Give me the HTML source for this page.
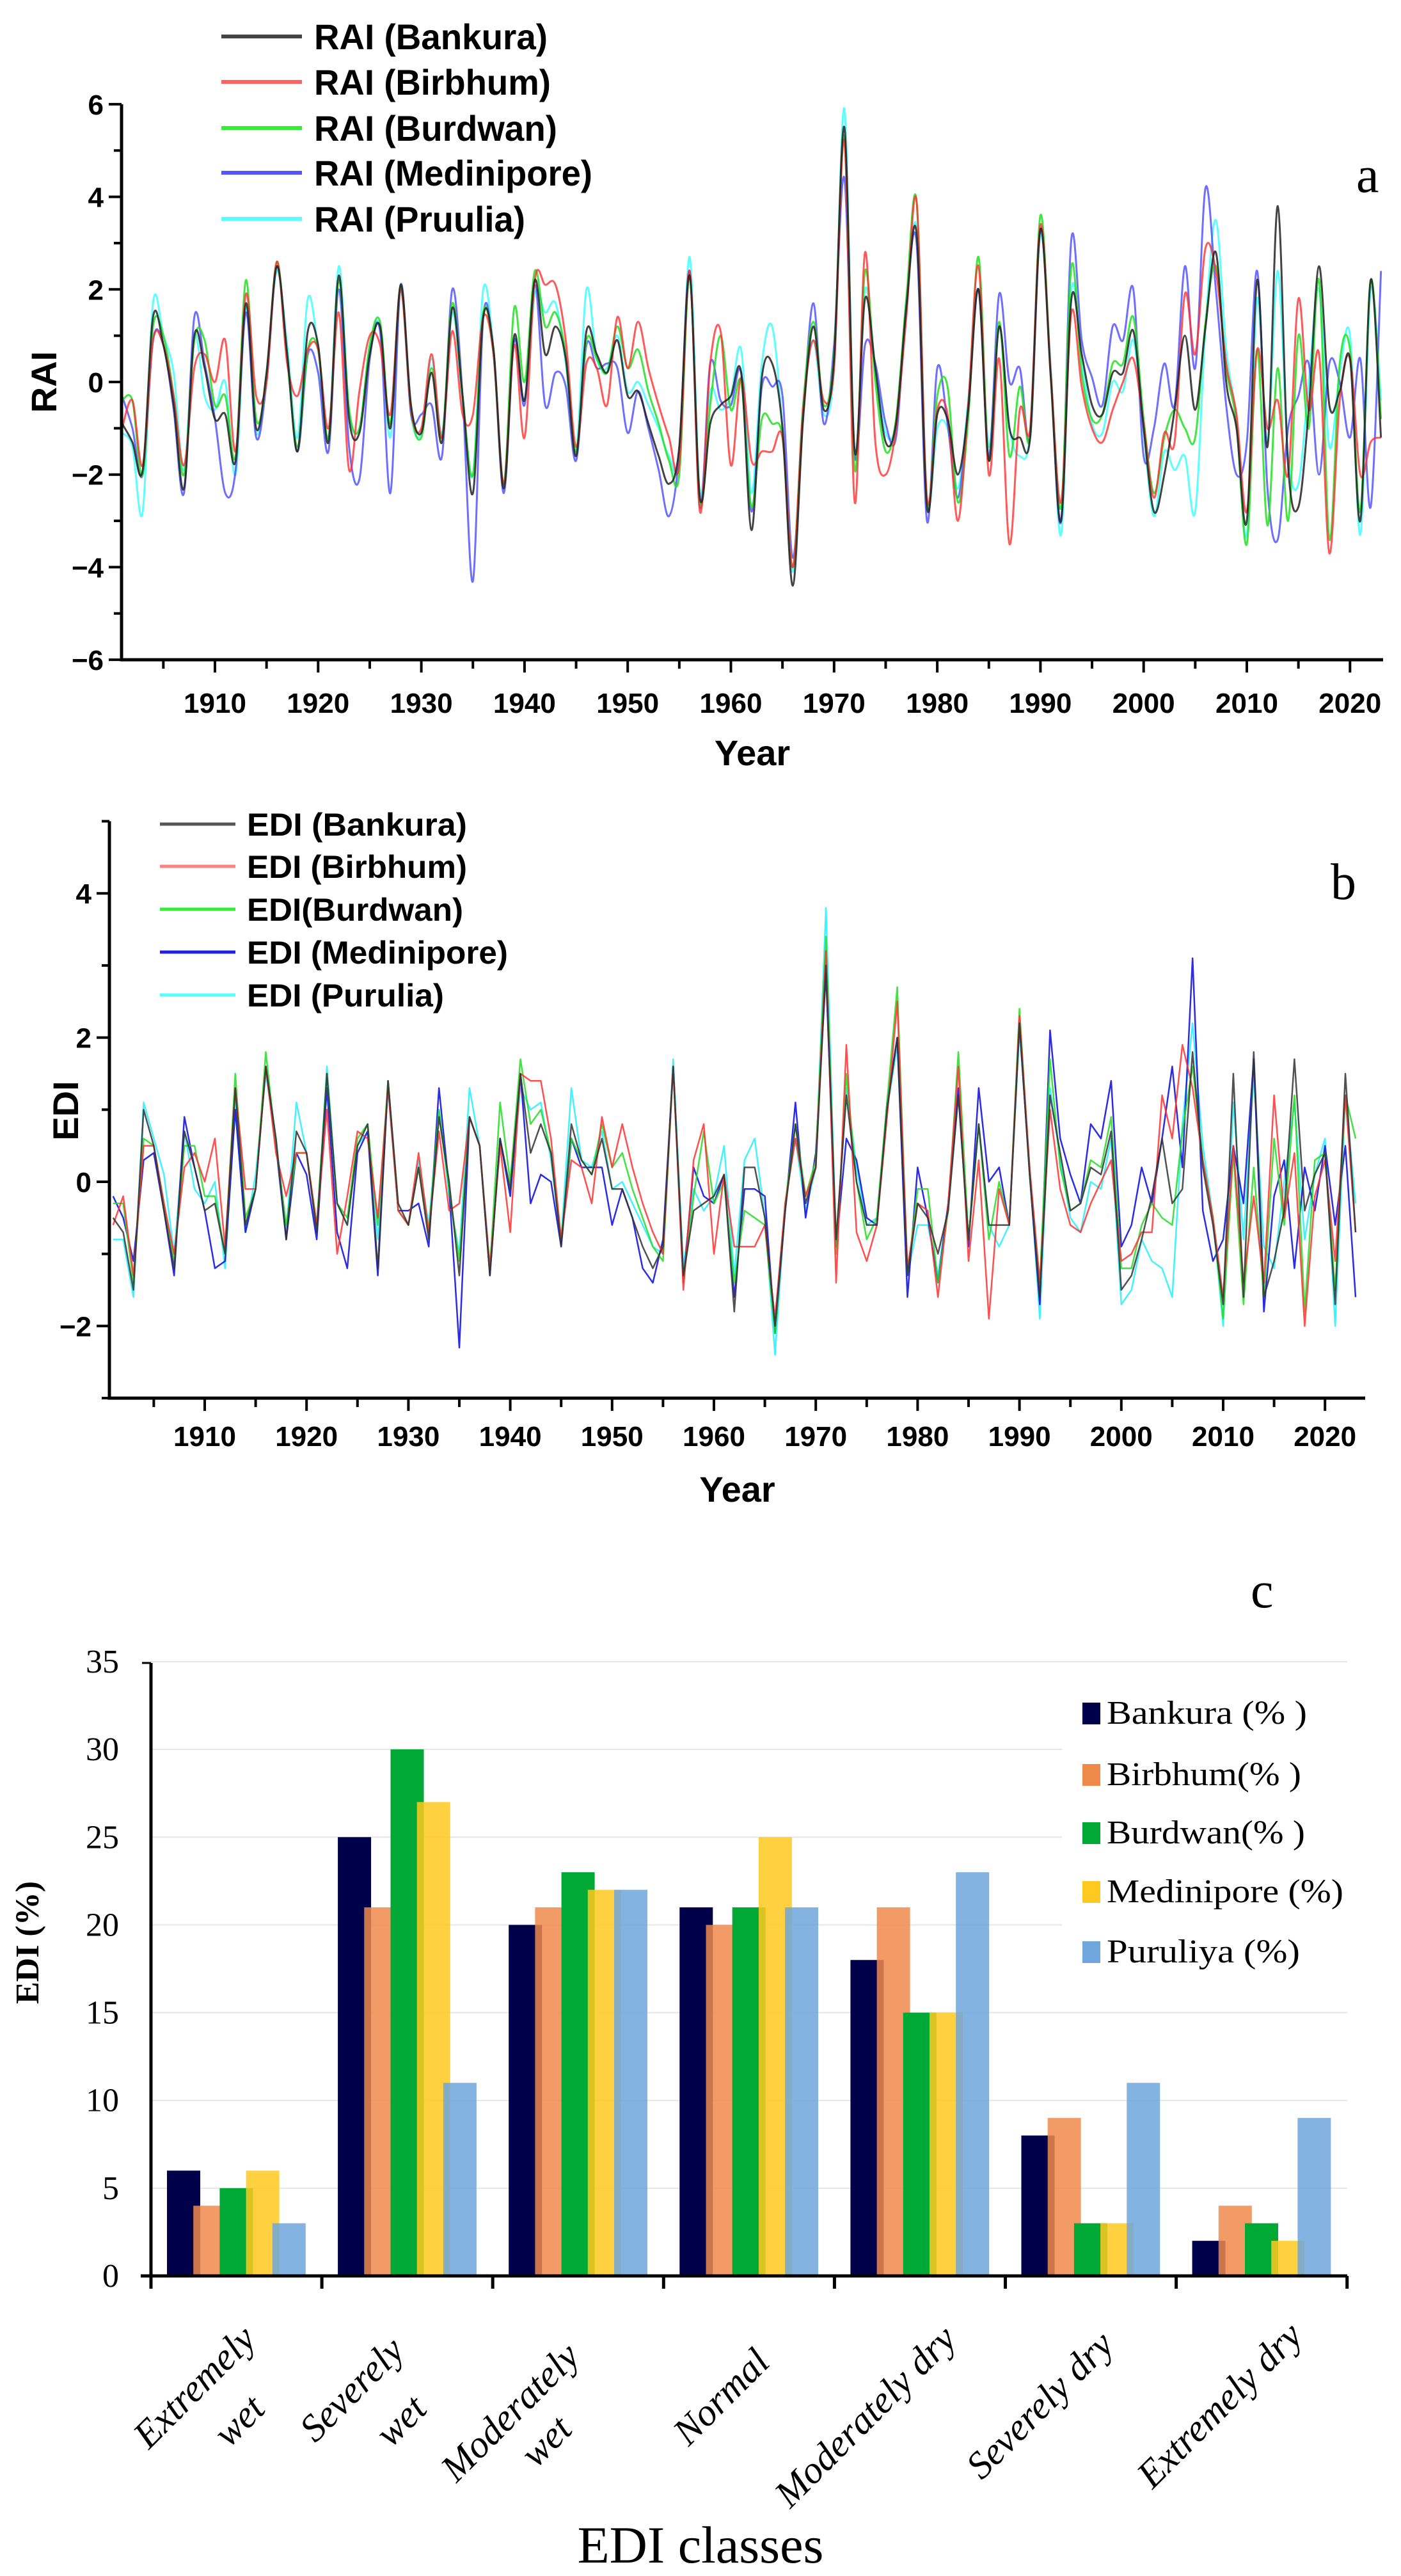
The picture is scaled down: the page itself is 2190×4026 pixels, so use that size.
<!DOCTYPE html>
<html><head><meta charset="utf-8"><style>
html,body{margin:0;padding:0;background:#fff}
svg{display:block}
.ab{font-family:"Liberation Sans",Arial,sans-serif;font-weight:bold}
.sr{font-family:"Liberation Serif","Times New Roman",serif}
</style></head><body>
<svg id="fig" width="2190" height="4026" viewBox="0 0 2190 4026" xmlns="http://www.w3.org/2000/svg">
<g id="pa"></g>
<g id="pb"></g>
<g id="pc"></g>
</svg>
<script>
const startYear = 1901;
const raiBankura = [-0.9,-1.3,-1.9,1.4,0.8,-0.5,-2.3,1.0,0.3,-0.8,-0.7,-1.7,1.7,-1.0,0.2,2.5,0.6,-1.5,1.1,0.8,-1.3,2.3,-0.8,-1.1,0.6,1.2,-1.0,2.1,-0.5,-1.1,0.2,-1.3,1.6,-0.3,-2.4,1.4,0.7,-2.3,1.0,-0.4,2.2,0.6,1.2,0.5,-1.6,1.1,0.6,0.2,0.9,-0.3,-0.2,-0.9,-1.6,-2.2,-1.4,2.3,-2.5,-0.9,-0.5,-0.3,0.2,-3.2,0.1,0.4,-1.0,-4.4,-0.8,1.2,-0.6,0.5,5.5,-1.5,1.8,0.3,-1.3,-0.9,1.6,3.2,-2.7,-0.7,-0.8,-2.0,-0.6,2.0,-1.7,1.2,-1.0,-1.2,-1.2,3.3,0.1,-3.0,1.8,0.6,-0.5,-0.7,0.2,0.2,1.1,-1.0,-2.8,-2.0,-0.6,1.0,-0.6,1.2,2.8,0.0,-1.0,-3.0,2.2,-1.4,3.8,-1.8,-2.7,-0.6,2.5,-0.5,-0.2,0.5,-3.0,2.2,-1.2];
const raiBirbhum = [-1.0,-0.4,-1.8,0.9,0.8,-0.3,-1.8,0.3,0.6,0.0,0.9,-1.5,1.9,-0.3,0.0,2.6,0.4,-0.3,0.7,0.7,-1.0,1.5,-1.9,-0.2,1.0,0.8,-0.7,2.0,-0.6,-1.0,0.6,-1.2,1.1,-0.7,-0.7,1.4,0.6,-2.2,0.8,-1.2,2.2,2.1,2.1,0.9,-1.4,0.4,0.3,-0.5,1.4,0.3,1.3,0.3,-0.5,-1.2,-1.8,2.4,-2.8,0.4,1.1,-1.8,0.1,-1.7,-1.5,-1.5,-1.2,-4.0,-0.6,0.9,-0.4,0.3,5.2,-2.6,2.8,-1.3,-2.0,-1.0,1.4,3.9,-2.5,-0.6,-0.7,-3.0,-0.5,2.5,-2.0,0.5,-3.5,-0.6,-1.0,3.4,0.2,-2.6,1.5,-0.1,-1.0,-1.3,-0.6,0.0,0.5,-0.9,-2.5,-1.1,-1.3,1.9,0.6,2.9,2.4,0.4,-0.7,-2.8,0.7,-1.0,-0.4,-2.0,1.8,-0.6,0.6,-3.7,-0.4,0.5,-2.0,-1.3,-1.2];
const raiBurdwan = [-0.4,-0.4,-2.0,1.2,1.0,-0.3,-2.0,0.9,0.9,-0.5,-0.3,-1.6,2.2,-0.8,0.1,2.6,0.5,-1.4,0.7,0.7,-1.2,2.2,-0.6,-1.0,0.8,1.3,-0.9,2.1,-0.6,-1.2,0.3,-1.2,1.7,-0.3,-2.0,1.5,0.6,-2.2,1.6,0.0,2.4,1.2,1.5,0.6,-1.5,0.9,0.5,0.2,1.2,0.3,0.7,-0.2,-0.9,-1.7,-2.0,2.3,-2.6,-0.5,1.0,-0.6,0.0,-2.7,-0.8,-0.9,-1.2,-4.0,-0.5,1.3,-0.5,0.6,5.3,-1.9,2.4,0.0,-1.5,-0.8,1.8,3.9,-2.6,-0.3,-0.1,-2.6,-0.8,2.7,-1.7,1.3,-1.6,-0.1,-1.2,3.6,0.2,-2.7,2.5,0.2,-0.8,-0.7,0.4,0.4,1.4,-0.8,-2.4,-1.2,-0.6,-1.0,-1.2,1.3,2.5,0.3,-0.9,-3.5,0.7,-3.1,0.3,-3.0,1.0,-1.0,2.2,-3.4,0.4,0.7,-2.8,2.2,-0.8];
const raiMedinipore = [-0.3,-1.0,-2.0,0.9,0.8,-0.6,-2.4,1.4,0.4,-0.8,-2.4,-1.9,1.5,-1.2,0.0,2.5,0.6,-1.5,0.6,0.2,-1.5,2.0,-1.4,-2.1,0.5,1.1,-2.4,2.1,-0.7,-0.7,-0.5,-1.6,2.0,-0.3,-4.3,1.4,0.6,-2.4,0.9,-0.5,2.1,-0.5,0.2,-0.1,-1.7,0.8,0.3,0.4,0.3,-1.1,-0.2,-1.0,-1.9,-2.9,-1.5,2.4,-2.7,0.4,-0.4,-0.5,0.2,-2.8,-0.1,-0.1,-0.3,-3.8,-0.7,1.7,-0.9,0.8,4.4,-1.6,0.8,0.4,-0.9,-1.2,1.7,3.0,-3.0,0.3,-0.9,-2.5,-0.5,2.0,-1.6,1.9,0.0,0.3,-1.2,3.3,0.2,-3.0,3.1,0.9,0.1,-0.5,1.2,0.9,2.0,-1.6,-1.0,0.4,-0.5,2.5,0.3,4.2,2.0,-0.5,-2.0,-1.3,2.4,-2.3,-3.4,-1.0,-0.3,0.4,-2.0,0.4,0.0,-1.2,0.5,-2.7,2.4];
const raiPurulia = [-1.1,-1.4,-2.8,1.7,1.0,0.2,-1.9,1.0,-0.3,-0.6,0.0,-2.0,1.6,-1.1,0.2,2.4,0.8,-1.2,1.8,0.7,-1.2,2.5,-0.6,-1.0,0.8,1.2,-1.2,2.0,-0.7,-1.1,0.5,-1.1,1.5,-0.4,-2.0,2.0,0.7,-2.2,0.9,-0.4,1.9,1.5,1.7,0.4,-1.5,2.0,0.5,0.3,1.0,-0.2,0.0,-0.5,-1.0,-1.6,-1.7,2.7,-2.4,-0.2,-0.6,-0.3,0.7,-2.4,0.4,1.2,-1.0,-4.1,-0.5,0.9,-0.7,0.3,5.9,-1.6,2.0,0.3,-1.1,-0.9,1.5,3.3,-2.6,-1.0,-1.0,-2.3,-0.4,2.0,-1.4,1.2,-1.0,-1.6,-1.1,3.2,0.3,-3.3,2.0,0.5,-0.9,-1.1,0.0,-0.2,0.9,-1.1,-2.9,-1.5,-1.9,-1.6,-2.8,1.2,3.5,0.7,-0.8,-3.3,1.8,-1.3,2.4,-1.6,-2.2,0.0,2.0,-1.4,0.2,1.0,-3.3,2.0,-0.4];
const ediBankura = [-0.5,-0.7,-1.5,1.0,0.5,-0.4,-1.2,0.7,0.2,-0.4,-0.3,-1.0,1.3,-0.6,-0.1,1.6,0.6,-0.8,0.7,0.4,-0.7,1.5,-0.3,-0.6,0.5,0.8,-1.2,1.4,-0.3,-0.6,0.2,-0.8,0.9,0.0,-1.3,0.9,0.5,-1.3,0.6,-0.1,1.5,0.4,0.8,0.4,-0.9,0.8,0.3,0.1,0.6,-0.1,-0.1,-0.5,-0.9,-1.2,-0.9,1.6,-1.3,-0.4,-0.3,-0.2,0.1,-1.8,0.2,0.2,-0.5,-2.0,-0.4,0.8,-0.3,0.2,3.0,-0.8,1.2,0.0,-0.6,-0.6,1.0,2.0,-1.3,-0.3,-0.5,-1.0,-0.4,1.2,-0.8,0.8,-0.6,-0.6,-0.6,2.2,0.1,-1.6,1.2,0.4,-0.4,-0.3,0.2,0.1,0.7,-1.5,-1.3,-0.8,-0.2,0.6,-0.3,-0.1,1.8,0.2,-0.6,-1.7,1.5,-1.6,1.8,-1.6,-1.1,-0.4,1.7,-0.4,0.1,0.4,-1.7,1.5,-0.7];
const ediBirbhum = [-0.6,-0.2,-1.3,0.5,0.5,-0.3,-1.0,0.2,0.4,0.0,0.6,-0.9,1.3,-0.1,-0.1,1.6,0.4,-0.2,0.4,0.4,-0.6,1.0,-1.0,-0.2,0.7,0.6,-0.5,1.3,-0.4,-0.6,0.4,-0.7,0.7,-0.4,-0.3,0.9,0.5,-1.2,0.5,-0.7,1.5,1.4,1.4,0.6,-0.8,0.3,0.2,-0.3,0.9,0.2,0.8,0.2,-0.3,-0.7,-1.0,1.6,-1.5,0.3,0.8,-1.0,0.1,-0.9,-0.9,-0.9,-0.6,-1.9,-0.3,0.6,-0.2,0.2,3.2,-1.4,1.9,-0.7,-1.1,-0.6,0.9,2.5,-1.2,-0.3,-0.4,-1.6,-0.3,1.6,-1.1,0.3,-1.9,-0.1,-0.6,2.3,0.2,-1.4,1.0,-0.1,-0.6,-0.7,-0.3,0.0,0.3,-1.1,-1.0,-0.7,-0.7,1.2,0.6,1.9,1.3,0.3,-0.5,-1.6,0.5,-1.4,-0.2,-1.4,1.2,-0.5,0.4,-2.0,-0.2,0.3,-1.1,1.2,-0.7];
const ediBurdwan = [-0.3,-0.3,-1.4,0.6,0.5,-0.3,-1.1,0.5,0.5,-0.2,-0.2,-1.0,1.5,-0.5,-0.1,1.8,0.5,-0.6,0.4,0.4,-0.6,1.5,-0.3,-0.5,0.6,0.8,-0.6,1.4,-0.4,-0.6,0.2,-0.7,1.0,-0.1,-1.1,0.9,0.5,-1.2,1.1,0.0,1.7,0.8,1.0,0.4,-0.8,0.6,0.3,0.1,0.8,0.2,0.4,-0.1,-0.5,-0.9,-1.1,1.6,-1.4,-0.2,0.7,-0.3,0.0,-1.4,-0.4,-0.5,-0.6,-2.1,-0.3,0.8,-0.2,0.3,3.4,-1.0,1.5,0.0,-0.8,-0.5,1.1,2.7,-1.3,-0.1,-0.1,-1.4,-0.4,1.8,-0.8,0.8,-0.8,0.0,-0.6,2.4,0.1,-1.4,1.7,0.2,-0.4,-0.3,0.3,0.2,0.9,-1.2,-1.2,-0.6,-0.3,-0.5,-0.6,0.7,1.6,0.3,-0.5,-1.9,0.4,-1.7,0.2,-1.6,0.6,-0.6,1.2,-1.8,0.3,0.4,-1.5,1.2,0.6];
const ediMedinipore = [-0.2,-0.5,-1.1,0.3,0.4,-0.4,-1.3,0.9,0.2,-0.4,-1.2,-1.1,1.0,-0.7,-0.1,1.6,0.5,-0.8,0.4,0.1,-0.8,1.3,-0.7,-1.2,0.4,0.7,-1.3,1.4,-0.4,-0.4,-0.3,-0.9,1.3,-0.1,-2.3,0.9,0.5,-1.3,0.6,-0.2,1.5,-0.3,0.1,0.0,-0.9,0.6,0.2,0.2,0.2,-0.6,-0.1,-0.5,-1.2,-1.4,-0.8,1.6,-1.4,0.2,-0.2,-0.3,0.1,-1.6,-0.1,-0.1,-0.2,-2.1,-0.4,1.1,-0.5,0.4,2.9,-0.9,0.6,0.3,-0.5,-0.6,1.1,2.0,-1.6,0.2,-0.5,-1.4,-0.3,1.3,-0.9,1.3,0.0,0.2,-0.6,2.2,0.1,-1.7,2.1,0.6,0.1,-0.3,0.8,0.6,1.4,-0.9,-0.6,0.2,-0.3,0.6,1.6,0.2,3.1,-0.4,-1.1,-0.8,0.5,-0.3,1.7,-1.8,-0.2,0.3,-1.2,0.2,-0.4,0.5,-0.6,0.5,-1.6];
const ediPurulia = [-0.8,-0.8,-1.6,1.1,0.6,0.1,-1.0,0.7,-0.1,-0.3,0.0,-1.2,1.1,-0.7,0.1,1.5,0.6,-0.7,1.1,0.4,-0.7,1.6,-0.3,-0.6,0.5,0.7,-0.8,1.3,-0.4,-0.6,0.3,-0.6,1.0,-0.2,-1.0,1.3,0.5,-1.2,0.6,-0.2,1.3,1.0,1.1,0.3,-0.8,1.3,0.3,0.2,0.7,-0.1,0.0,-0.3,-0.6,-0.9,-1.0,1.7,-1.2,-0.1,-0.4,-0.2,0.5,-1.3,0.3,0.6,-0.5,-2.4,-0.3,0.6,-0.4,0.2,3.8,-0.9,1.3,0.2,-0.6,-0.5,1.0,1.9,-1.3,-0.6,-0.6,-1.3,-0.3,1.2,-0.8,0.8,-0.6,-0.9,-0.6,2.1,0.2,-1.9,1.3,0.3,-0.5,-0.7,0.0,-0.1,0.6,-1.7,-1.5,-0.8,-1.1,-1.2,-1.6,0.8,2.2,0.5,-0.5,-2.0,1.1,-0.8,1.5,-0.9,-1.2,0.0,1.1,-0.8,0.1,0.6,-2.0,1.2,-0.3];
const raiNames = ["RAI (Bankura)","RAI (Birbhum)","RAI (Burdwan)","RAI (Medinipore)","RAI (Pruulia)"];
const ediNames = ["EDI (Bankura)","EDI (Birbhum)","EDI(Burdwan)","EDI (Medinipore)","EDI (Purulia)"];
const xTickYears = [1910,1920,1930,1940,1950,1960,1970,1980,1990,2000,2010,2020];
const raiTicks = [-6,-4,-2,0,2,4,6];
const ediTicks = [-2,0,2,4];
const classNames = [["Extremely","wet"],["Severely","wet"],["Moderately","wet"],["Normal"],["Moderately dry"],["Severely dry"],["Extremely dry"]];
const barBankura = [6,25,20,21,18,8,2];
const barBirbhum = [4,21,21,20,21,9,4];
const barBurdwan = [5,30,23,21,15,3,3];
const barMedinipore = [6,27,22,25,15,3,2];
const barPuruliya = [3,11,22,21,23,11,9];
const barNames = ["Bankura (% )","Birbhum(% )","Burdwan(% )","Medinipore (%)","Puruliya (%)"];
const barTicks = [0,5,10,15,20,25,30,35];

const NS="http://www.w3.org/2000/svg";
function mk(tag,attrs,parent,text){const e=document.createElementNS(NS,tag);for(const k in attrs)e.setAttribute(k,attrs[k]);if(text!==undefined)e.textContent=text;parent.appendChild(e);return e;}
function fmt(v){return v<0?"\u2212"+(-v):String(v);}

function smoothPath(pts){let d="M"+pts[0][0].toFixed(1)+","+pts[0][1].toFixed(1);
 for(let i=0;i<pts.length-1;i++){const p0=pts[i-1]||pts[i],p1=pts[i],p2=pts[i+1],p3=pts[i+2]||p2;
  const c1x=p1[0]+(p2[0]-p0[0])/6,c1y=p1[1]+(p2[1]-p0[1])/6,c2x=p2[0]-(p3[0]-p1[0])/6,c2y=p2[1]-(p3[1]-p1[1])/6;
  d+="C"+c1x.toFixed(1)+","+c1y.toFixed(1)+" "+c2x.toFixed(1)+","+c2y.toFixed(1)+" "+p2[0].toFixed(1)+","+p2[1].toFixed(1);}
 return d;}
function linePath(pts){return "M"+pts.map(p=>p[0].toFixed(1)+","+p[1].toFixed(1)).join("L");}

function linePanel(g,cfg){
 const xS=y=>cfg.x1910+(y-1910)*cfg.pxYear, yS=v=>cfg.y0-v*cfg.pxUnit;
 cfg.series.forEach((s,k)=>{
  const pts=s.map((v,i)=>[xS(startYear+i),yS(v)]);
  const p=mk("path",{d:cfg.smooth?smoothPath(pts):linePath(pts),fill:"none",stroke:cfg.colors[k],"stroke-width":cfg.lw,"stroke-linejoin":"round","stroke-opacity":cfg.op[k]},g);
  
  
 });
 const yTop=yS(cfg.yMax), yBot=yS(cfg.yMin);
 const ax=mk("path",{d:`M${cfg.left},${yTop}L${cfg.left},${yBot}L${cfg.right},${yBot}`,fill:"none",stroke:"#000","stroke-width":5},g);
 
 
 for(let v=cfg.yMin;v<=cfg.yMax;v++){const major=(v%2===0);
  mk("line",{x1:cfg.left-(major?20:12),x2:cfg.left,y1:yS(v),y2:yS(v),stroke:"#000","stroke-width":4},g);}
 cfg.yTicks.forEach(v=>{const t=mk("text",{x:cfg.left-28,y:yS(v)+16,"text-anchor":"end","font-size":44,class:"ab"},g,fmt(v));
  
  });
 for(let y=1905;y<=2020;y+=5){mk("line",{x1:xS(y),x2:xS(y),y1:yBot,y2:yBot+(y%10===0?20:14),stroke:"#000","stroke-width":4},g);}
 xTickYears.forEach(y=>{const t=mk("text",{x:xS(y),y:cfg.xLabY,"text-anchor":"middle","font-size":44,class:"ab",textLength:98,lengthAdjust:"spacingAndGlyphs"},g,String(y));
  
  });
 const xt=mk("text",{x:(cfg.left+cfg.right)/2,y:cfg.yearY,"text-anchor":"middle","font-size":56,class:"ab"},g,"Year");
 
 
 const yt=mk("text",{x:0,y:0,"text-anchor":"middle","font-size":56,class:"ab",transform:`translate(${cfg.yLabX},${cfg.yLabY}) rotate(-90)`},g,cfg.yTitle);
 
 
 const pl=mk("text",{x:cfg.letterX,y:cfg.letterY,"font-size":80,class:"sr"},g,cfg.letter);
 
 
}

linePanel(document.getElementById("pa"),{
 x1910:336,pxYear:16.13,y0:597,pxUnit:72.35,left:190,right:2162,yMin:-6,yMax:6,yTicks:raiTicks,
 xLabY:1114,yearY:1196,yLabX:88,yLabY:597,yTitle:"RAI",letter:"a",letterX:2120,letterY:300,smooth:true,lw:3,
 series:[raiPurulia,raiMedinipore,raiBurdwan,raiBirbhum,raiBankura],
 seriesIds:["rai-purulia-line","rai-medinipore-line","rai-burdwan-line","rai-birbhum-line","rai-bankura-line"],
 colors:["#40ffff","#4a4aff","#22e022","#ff3030","#222"],op:[0.85,0.8,0.85,0.8,0.85]
});
(function(){const g=document.getElementById("pa");
 const cols=["#444","#ff6060","#33ee33","#5555ff","#55ffff"];const ys=[57,128,200,270,342];const ws=[365,370,380,435,330];
 raiNames.forEach((n,k)=>{const lg=mk("g",{},g);
  
  
  mk("line",{x1:346,x2:472,y1:ys[k],y2:ys[k],stroke:cols[k],"stroke-width":6},lg);
  mk("text",{x:491,y:ys[k]+20,"font-size":56,class:"ab",textLength:ws[k],lengthAdjust:"spacingAndGlyphs"},lg,n);});
})();

linePanel(document.getElementById("pb"),{
 x1910:320,pxYear:15.92,y0:1847,pxUnit:112.7,left:171,right:2134,yMin:-3,yMax:5,yTicks:ediTicks,
 xLabY:2260,yearY:2347,yLabX:122,yLabY:1736,yTitle:"EDI",letter:"b",letterX:2080,letterY:1405,smooth:false,lw:2.5,
 series:[ediPurulia,ediMedinipore,ediBurdwan,ediBirbhum,ediBankura],
 seriesIds:["edi-purulia-line","edi-medinipore-line","edi-burdwan-line","edi-birbhum-line","edi-bankura-line"],
 colors:["#30f0ff","#1515e0","#22dd22","#ff3030","#333"],op:[0.9,0.9,0.85,0.85,0.85]
});
(function(){const g=document.getElementById("pb");
 const cols=["#555","#ff8080","#33ee33","#2020e0","#55ffff"];const ys=[1288,1354,1421,1488,1555];const ws=[344,344,338,408,308];
 ediNames.forEach((n,k)=>{const lg=mk("g",{},g);
  
  
  mk("line",{x1:250,x2:368,y1:ys[k],y2:ys[k],stroke:cols[k],"stroke-width":5},lg);
  mk("text",{x:386,y:ys[k]+18,"font-size":50,class:"ab",textLength:ws[k],lengthAdjust:"spacingAndGlyphs"},lg,n);});
})();

(function(){const g=document.getElementById("pc");
 const y0=3557,pu=27.43,left=236,right=2106,gw=267.1;
 const yS=v=>y0-v*pu;
 const pl=mk("text",{x:1955,y:2512,"font-size":80,class:"sr"},g,"c");
 
 
 barTicks.forEach(v=>{ if(v>0){const gl=mk("line",{x1:left,x2:right,y1:yS(v),y2:yS(v),stroke:"#e6e6e6","stroke-width":2},g);
   
   }
  const t=mk("text",{x:186,y:yS(v)+17,"text-anchor":"end","font-size":52,class:"sr"},g,String(v));
  
  });
 const series=[barBankura,barBirbhum,barBurdwan,barMedinipore,barPuruliya];
 const cols=["#00004a","#f08a4b","#00a836","#ffc91f","#6fa6dc"];
 const ops=[1,0.85,1,0.85,0.85];
 const ids=["bar-bankura","bar-birbhum","bar-burdwan","bar-medinipore","bar-puruliya"];
 classNames.forEach((c,i)=>{series.forEach((s,j)=>{
   const x=left+i*gw+25+j*41.2;
   const r=mk("rect",{x:x,y:yS(s[i]),width:52,height:s[i]*pu,fill:cols[j],"fill-opacity":ops[j]},g);
   
   });});
 const lb=mk("g",{},g);
 
 
 mk("rect",{x:1660,y:2605,width:446,height:480,fill:"#fff"},lb);
 const ly=[2677,2773,2864,2956,3050];const lw=[313,304,310,370,302];
 barNames.forEach((n,j)=>{const e=mk("g",{},lb);
  
  
  mk("rect",{x:1692,y:ly[j]-16,width:28,height:34,fill:cols[j]},e);
  mk("text",{x:1730,y:ly[j]+17,"font-size":52,class:"sr",textLength:lw[j],lengthAdjust:"spacingAndGlyphs"},e,n);});
 const ax=mk("path",{d:`M${left},2599L${left},${y0}M${left-16},${y0}L${right},${y0}`,fill:"none",stroke:"#000","stroke-width":5},g);
 
 
 mk("line",{x1:left-14,x2:left,y1:2599,y2:2599,stroke:"#000","stroke-width":3},g);
 for(let i=0;i<=7;i++){mk("line",{x1:left+i*gw,x2:left+i*gw,y1:y0,y2:y0+20,stroke:"#000","stroke-width":5},g);}
 const ends=[[[393,3609],[407,3718]],[[625,3627],[660,3718]],[[899,3636],[887,3750]],[[1196,3645]],[[1488,3609]],[[1734,3618]],[[2029,3604]]];
 classNames.forEach((c,i)=>{c.forEach((line,k)=>{const p=ends[i][k];
  const t=mk("text",{x:0,y:0,"text-anchor":"end","font-size":60,"font-style":"italic",class:"sr",transform:`translate(${p[0]+10},${p[1]+50}) rotate(-45)`},g,line);
  
  });});
 const xt=mk("text",{x:1095,y:4005,"text-anchor":"middle","font-size":82,class:"sr"},g,"EDI classes");
 
 
 const yt=mk("text",{x:0,y:0,"text-anchor":"middle","font-size":52,"font-weight":"bold",class:"sr",transform:"translate(60,3036) rotate(-90)"},g,"EDI (%)");
 
 
})();
</script>
</body></html>
